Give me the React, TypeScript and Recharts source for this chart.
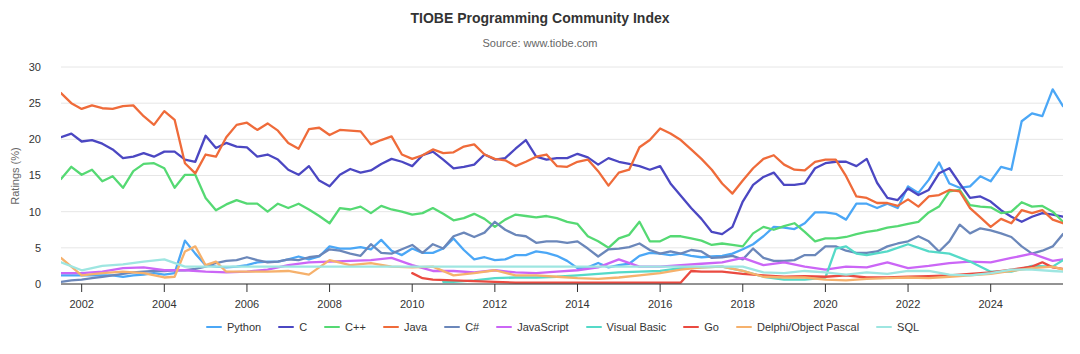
import React from 'react';
import { LineChart, Line, XAxis, YAxis, CartesianGrid } from 'recharts';

const FONT = 'Helvetica, Arial, "Liberation Sans", sans-serif';

// Quarterly time grid (decimal years) from mid-2001 to late 2025
const years: number[] = Array.from({ length: 98 }, (_, i) => 2001.5 + i * 0.25);
const xTicks = [2002, 2004, 2006, 2008, 2010, 2012, 2014, 2016, 2018, 2020, 2022, 2024];
const yTicks = [0, 5, 10, 15, 20, 25, 30];

// ---- Major series, one value per quarter ----
const java = [
  26.4, 25.0,
  24.2, 24.7, 24.3, 24.2,
  24.6, 24.7, 23.2, 22.0,
  23.9, 22.7, 16.7, 15.3,
  17.9, 17.6, 20.3, 22.0,
  22.3, 21.3, 22.2, 21.2,
  19.5, 18.7, 21.4, 21.6,
  20.6, 21.3, 21.2, 21.1,
  19.3, 19.9, 20.4, 17.9,
  17.3, 17.8, 18.6, 18.1,
  18.2, 19.0, 19.3, 17.9,
  17.3, 17.1, 16.3, 16.9,
  17.6, 17.9, 16.3, 16.2,
  16.9, 17.2, 15.6, 13.6,
  15.4, 15.8, 18.9, 19.9,
  21.5, 20.8, 19.9, 18.6,
  17.3, 15.8, 13.9, 12.5,
  14.3, 16.0, 17.3, 17.8,
  16.5, 15.8, 15.7, 16.9,
  17.2, 17.2, 14.9, 12.1,
  11.9, 11.2, 11.2, 10.8,
  11.7, 10.7, 12.1, 12.3,
  13.0, 12.8, 10.5, 9.2,
  7.9, 9.0, 8.4, 10.2,
  9.8, 10.2, 8.9, 8.4,
];

const cLang = [
  20.3, 20.8,
  19.7, 19.9, 19.4, 18.6,
  17.4, 17.6, 18.1, 17.6,
  18.3, 18.3, 17.2, 16.9,
  20.5, 18.8, 19.5, 19.0,
  18.9, 17.6, 17.9, 17.2,
  15.8, 15.1, 16.3, 14.3,
  13.5, 15.1, 15.9, 15.4,
  15.7, 16.6, 17.3, 16.9,
  16.3, 17.8, 18.3, 17.2,
  16.0, 16.2, 16.5, 17.9,
  17.2, 17.4, 18.7, 19.9,
  17.6, 17.2, 17.4, 17.4,
  18.0, 17.5, 16.5, 17.4,
  16.9, 16.6, 16.3, 15.8,
  16.3, 13.9, 12.2, 10.5,
  9.0, 7.2, 6.9, 7.9,
  11.4, 13.7, 14.8, 15.4,
  13.7, 13.7, 13.9, 16.0,
  16.7, 16.9, 16.9, 16.3,
  17.3, 14.0, 11.9, 11.6,
  13.2, 12.3, 13.0, 15.3,
  16.0, 13.9, 11.9, 12.1,
  11.4, 10.2, 9.3, 8.6,
  9.3, 9.8, 9.6, 9.3,
];

const cpp = [
  14.5, 16.2,
  15.1, 15.8, 14.2, 14.9,
  13.3, 15.6, 16.6, 16.7,
  16.0, 13.3, 15.1, 15.1,
  11.9, 10.2, 11.0, 11.6,
  11.1, 11.1, 10.0, 11.1,
  10.5, 11.1, 10.3, 9.4,
  8.4, 10.5, 10.3, 10.7,
  9.8, 10.8, 10.3, 10.0,
  9.6, 9.8, 10.5, 9.7,
  8.8, 9.1, 9.7, 9.0,
  7.9, 8.9, 9.6, 9.4,
  9.2, 9.4, 9.1, 8.6,
  8.3, 6.6, 5.9, 5.0,
  6.3, 6.8, 8.6, 5.9,
  5.9, 6.6, 6.6, 6.3,
  6.0, 5.4, 5.6, 5.4,
  5.2, 7.0, 7.9, 7.5,
  8.0, 8.4, 7.2, 5.9,
  6.3, 6.3, 6.5, 6.9,
  7.2, 7.4, 7.8, 8.0,
  8.3, 8.6, 9.9, 10.7,
  12.8, 13.0, 10.9, 10.7,
  10.6, 9.8, 10.0, 11.3,
  10.7, 10.8, 10.0, 8.6,
];

const python = [
  1.2, 1.2,
  1.2, 1.2, 1.2, 1.2,
  1.0, 1.2, 1.3, 1.5,
  1.3, 1.5, 6.0, 4.2,
  2.6, 2.4, 2.3, 2.4,
  2.6, 3.0, 3.1, 3.1,
  3.4, 3.8, 3.4, 3.8,
  5.2, 4.9, 4.9, 5.1,
  4.8, 6.1, 4.6, 4.0,
  4.9, 4.3, 4.3, 4.9,
  6.3, 4.7, 3.4, 3.7,
  3.3, 3.4, 4.0, 4.0,
  4.5, 4.3, 3.9, 3.2,
  2.2, 2.3, 2.9, 2.3,
  2.6, 2.8, 3.9, 4.3,
  4.2, 4.0, 4.2, 3.9,
  3.7, 3.8, 3.9, 4.2,
  4.8, 5.5, 6.6, 7.9,
  7.8, 7.6, 8.4, 9.9,
  9.9, 9.7, 8.9, 11.1,
  11.1, 10.5, 11.1, 10.5,
  13.5, 12.6, 14.4, 16.8,
  13.9, 13.3, 13.5, 14.9,
  14.2, 16.2, 15.8, 22.5,
  23.6, 23.2, 26.9, 24.6,
];

const csharp = [
  0.3, 0.5,
  0.6, 0.8, 1.0, 1.2,
  1.4, 1.6, 1.7, 1.8,
  1.8, 1.9, 1.9, 2.1,
  2.4, 2.9, 3.2, 3.3,
  3.7, 3.3, 3.0, 3.1,
  3.4, 3.3, 3.7, 3.9,
  4.8, 4.6, 4.2, 3.9,
  5.5, 4.3, 4.2, 4.8,
  5.4, 4.3, 5.5, 4.9,
  6.6, 7.1, 6.5, 7.1,
  8.6, 7.5, 6.8, 6.6,
  5.7, 5.9, 5.9, 5.7,
  5.9, 4.9, 3.8, 4.8,
  4.9, 5.1, 5.6, 4.7,
  4.2, 4.5, 4.2, 4.7,
  4.5, 3.6, 3.7, 3.9,
  3.4, 4.9, 3.6, 3.2,
  3.2, 3.3, 4.0, 4.0,
  5.2, 5.2, 4.6, 4.3,
  4.3, 4.5, 5.2, 5.6,
  5.9, 6.6, 5.9, 4.5,
  5.9, 8.2, 7.0, 7.7,
  7.4, 7.0, 6.5, 5.2,
  4.2, 4.6, 5.2, 6.9,
];

// ---- Smaller series, read at (mostly) half-year points: [year, value] ----
const javascript: [number, number][] = [
  [2001.5, 1.5], [2002, 1.5], [2002.5, 1.7], [2003, 2.2], [2003.5, 2.3], [2004, 1.9], [2004.5, 1.9],
  [2005, 1.7], [2005.5, 1.6], [2006, 1.7], [2006.5, 2.0], [2007, 2.6], [2007.5, 3.0], [2008, 3.1],
  [2008.5, 3.2], [2009, 3.3], [2009.5, 3.6], [2010, 2.6], [2010.5, 1.8], [2011, 1.8], [2011.5, 1.6],
  [2012, 1.9], [2012.5, 1.6], [2013, 1.5], [2013.5, 1.7], [2014, 1.9], [2014.5, 2.3], [2015, 3.4],
  [2015.5, 2.4], [2016, 2.4], [2016.5, 2.6], [2017, 2.8], [2017.5, 3.0], [2018, 3.6], [2018.5, 2.6],
  [2019, 3.0], [2019.5, 2.4], [2020, 2.0], [2020.5, 2.4], [2021, 2.3], [2021.5, 3.0], [2022, 2.2],
  [2022.5, 2.5], [2023, 2.9], [2023.5, 3.1], [2024, 3.0], [2024.5, 3.6], [2025, 4.2], [2025.5, 3.2],
  [2025.75, 3.4],
];

const visualBasic: [number, number][] = [
  [2010.75, 0.3], [2011, 0.3], [2011.5, 0.5], [2012, 0.8], [2012.5, 0.9], [2013, 0.9], [2013.5, 1.0],
  [2014, 1.2], [2014.5, 1.4], [2015, 1.6], [2015.5, 1.7], [2016, 1.8], [2016.5, 2.2], [2017, 2.3],
  [2017.5, 2.4], [2018, 1.8], [2018.5, 1.0], [2019, 0.6], [2019.5, 0.6], [2020, 0.9], [2020.25, 4.9],
  [2020.5, 5.2], [2020.75, 4.2], [2021, 4.0], [2021.5, 4.5], [2022, 5.5], [2022.5, 4.5], [2023, 4.2],
  [2023.5, 3.1], [2024, 1.7], [2024.5, 1.7], [2025, 2.5], [2025.5, 2.4], [2025.75, 3.3],
];

const goLang: [number, number][] = [
  [2010, 1.5], [2010.25, 0.8], [2010.5, 0.6], [2011, 0.5], [2011.5, 0.4], [2012, 0.3], [2012.5, 0.2],
  [2013, 0.2], [2013.5, 0.2], [2014, 0.2], [2014.5, 0.2], [2015, 0.2], [2015.5, 0.2], [2016, 0.2],
  [2016.5, 0.2], [2016.75, 1.8], [2017, 1.7], [2017.5, 1.7], [2018, 1.4], [2018.5, 1.2], [2019, 1.0],
  [2019.5, 1.1], [2020, 1.0], [2020.5, 1.2], [2021, 0.9], [2021.5, 0.9], [2022, 1.0], [2022.5, 1.1],
  [2023, 1.2], [2023.5, 1.4], [2024, 1.6], [2024.5, 2.0], [2025, 2.4], [2025.25, 3.0], [2025.5, 2.3],
  [2025.75, 2.1],
];

const delphi: [number, number][] = [
  [2001.5, 3.6], [2001.75, 2.4], [2002, 1.2], [2002.5, 1.5], [2003, 1.7], [2003.5, 1.5], [2004, 0.9],
  [2004.25, 1.0], [2004.5, 4.5], [2004.75, 5.2], [2005, 2.6], [2005.25, 3.1], [2005.5, 1.7], [2006, 1.7],
  [2006.5, 1.7], [2007, 1.8], [2007.5, 1.3], [2008, 3.3], [2008.5, 2.6], [2009, 2.9], [2009.5, 2.4],
  [2010, 2.3], [2010.5, 2.4], [2011, 1.2], [2011.5, 1.5], [2012, 1.9], [2012.5, 1.2], [2013, 1.2],
  [2013.5, 1.0], [2014, 0.8], [2014.5, 0.7], [2015, 0.9], [2015.5, 1.2], [2016, 1.5], [2016.5, 2.0],
  [2017, 2.3], [2017.5, 2.4], [2018, 1.8], [2018.5, 1.0], [2019, 0.9], [2019.5, 0.9], [2020, 0.6],
  [2020.5, 0.5], [2021, 0.7], [2021.5, 0.8], [2022, 0.9], [2022.5, 0.8], [2023, 1.0], [2023.5, 1.2],
  [2024, 1.4], [2024.5, 1.8], [2025, 2.2], [2025.5, 2.4], [2025.75, 2.0],
];

const sql: [number, number][] = [
  [2001.5, 3.0], [2002, 1.9], [2002.5, 2.5], [2003, 2.7], [2003.5, 3.1], [2004, 3.4], [2004.5, 2.4],
  [2005, 2.4], [2006, 2.4], [2007, 2.4], [2008, 2.4], [2009, 2.4], [2010, 2.4], [2011, 2.4],
  [2012, 2.4], [2013, 2.4], [2014, 2.4], [2015, 2.4], [2016, 2.4], [2017, 2.4], [2018, 2.4],
  [2018.5, 1.6], [2019, 1.5], [2019.5, 1.8], [2020, 1.6], [2020.5, 1.3], [2021, 1.6], [2021.5, 1.4],
  [2022, 1.8], [2022.5, 1.8], [2023, 1.3], [2023.5, 1.2], [2024, 1.5], [2024.5, 2.0], [2025, 2.0],
  [2025.5, 1.8], [2025.75, 1.7],
];

const series = [
  { key: 'python', name: 'Python', color: '#4ba7f6' },
  { key: 'c', name: 'C', color: '#4b47c2' },
  { key: 'cpp', name: 'C++', color: '#55d973' },
  { key: 'java', name: 'Java', color: '#ef6b3a' },
  { key: 'csharp', name: 'C#', color: '#6b87ba' },
  { key: 'javascript', name: 'JavaScript', color: '#cb66f6' },
  { key: 'vb', name: 'Visual Basic', color: '#55dac8' },
  { key: 'go', name: 'Go', color: '#ea4a40' },
  { key: 'delphi', name: 'Delphi/Object Pascal', color: '#f6b16c' },
  { key: 'sql', name: 'SQL', color: '#9ee6e1' },
];

const toMap = (pts: [number, number][]) => new Map(pts.map(([y, v]) => [y, v]));
const jsMap = toMap(javascript);
const vbMap = toMap(visualBasic);
const goMap = toMap(goLang);
const delphiMap = toMap(delphi);
const sqlMap = toMap(sql);

const table = years.map((year, i) => ({
  year,
  python: python[i],
  c: cLang[i],
  cpp: cpp[i],
  java: java[i],
  csharp: csharp[i],
  javascript: jsMap.get(year) ?? null,
  vb: vbMap.get(year) ?? null,
  go: goMap.get(year) ?? null,
  delphi: delphiMap.get(year) ?? null,
  sql: sqlMap.get(year) ?? null,
}));

export default function App() {
  return (
    <div style={{ position: 'absolute', left: 0, top: 0, width: 1080, height: 354, background: '#ffffff', fontFamily: FONT, overflow: 'hidden' }}>
      <div style={{ position: 'absolute', left: 0, top: 0 }}>
        <LineChart width={1080} height={354} data={table} margin={{ top: 67, right: 17, bottom: 40, left: 16 }}>
          <CartesianGrid vertical={false} stroke="#e6e6e6" />
          <XAxis
            dataKey="year"
            type="number"
            domain={[2001.5, 2025.75]}
            ticks={xTicks}
            allowDataOverflow
            height={30}
            stroke="#333333"
            tickSize={8}
            tickMargin={8}
            tick={{ fill: '#333333', fontSize: 11, fontFamily: FONT }}
          />
          <YAxis
            type="number"
            domain={[0, 30]}
            ticks={yTicks}
            width={45}
            axisLine={false}
            tickLine={false}
            tickSize={0}
            tickMargin={20}
            tick={{ fill: '#333333', fontSize: 11, fontFamily: FONT }}
          />
          {series.map((s) => (
            <Line
              key={s.key}
              dataKey={s.key}
              name={s.name}
              type="linear"
              stroke={s.color}
              strokeWidth={2.3}
              strokeLinejoin="round"
              strokeLinecap="round"
              dot={false}
              activeDot={false}
              connectNulls
              isAnimationActive={false}
            />
          ))}
        </LineChart>
      </div>
      <div style={{ position: 'absolute', left: 0, top: 10, width: 1080, textAlign: 'center', fontSize: 14, fontWeight: 'bold', color: '#333333' }}>
        TIOBE Programming Community Index
      </div>
      <div style={{ position: 'absolute', left: 0, top: 37, width: 1080, textAlign: 'center', fontSize: 11, color: '#666666' }}>
        Source: www.tiobe.com
      </div>
      <div style={{ position: 'absolute', left: 15 - 40, top: 177 - 7, width: 80, textAlign: 'center', fontSize: 11, color: '#666666', transform: 'rotate(-90deg)' }}>
        Ratings (%)
      </div>
      <div style={{ position: 'absolute', left: 0, top: 321, width: 1080, display: 'flex', justifyContent: 'center', paddingLeft: 45, boxSizing: 'border-box', gap: 17, fontSize: 11, color: '#333333' }}>
        {series.map((s) => (
          <div key={s.key} style={{ display: 'flex', alignItems: 'center', gap: 5 }}>
            <span style={{ display: 'inline-block', width: 16, height: 2, background: s.color, borderRadius: 1 }} />
            <span>{s.name}</span>
          </div>
        ))}
      </div>
    </div>
  );
}
